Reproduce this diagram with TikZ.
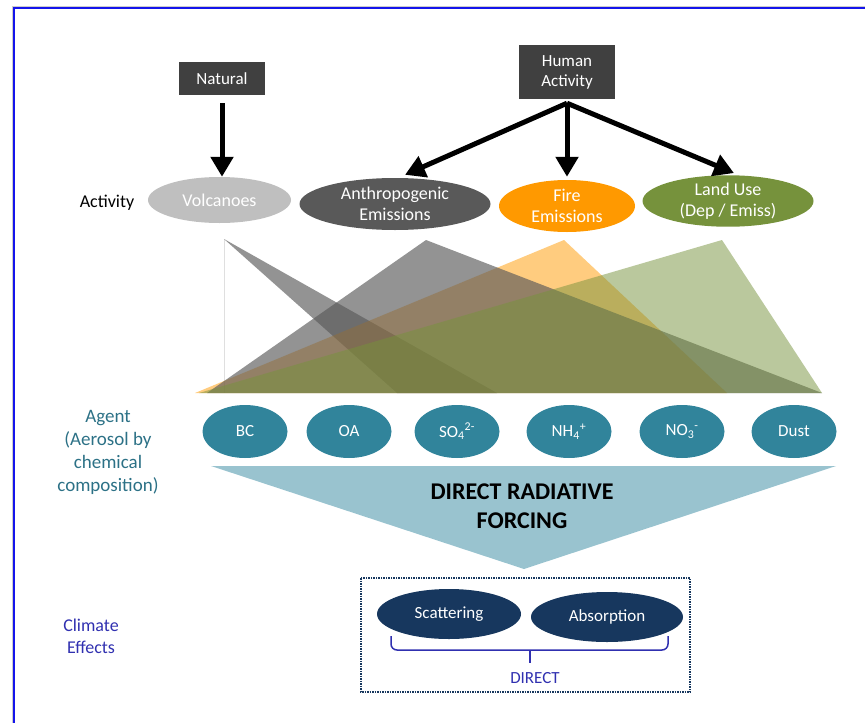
\documentclass[tikz,border=0pt]{standalone}
\usepackage{fontspec}
\setmainfont{Carlito}
\usetikzlibrary{shapes.geometric,arrows.meta}
\definecolor{boxgray}{HTML}{404040}
\definecolor{volcgray}{HTML}{BFBFBF}
\definecolor{anthgray}{HTML}{595959}
\definecolor{fireorange}{RGB}{255,153,0}
\definecolor{landgreen}{HTML}{76923C}
\definecolor{agentteal}{HTML}{31849B}
\definecolor{agenttext}{HTML}{2C7186}
\definecolor{forceblue}{RGB}{153,195,207}
\definecolor{effnavy}{HTML}{17375E}
\definecolor{effblue}{RGB}{48,48,176}
\definecolor{frameblue}{RGB}{20,20,235}
\begin{document}
\begin{tikzpicture}[x=1pt,y=-1pt,
  srcbox/.style={fill=boxgray,text=white,inner sep=0pt,align=center,font=\fontsize{17}{20}\selectfont},
  actnode/.style={ellipse,inner sep=0pt,text=white,align=center,font=\fontsize{18}{21}\selectfont},
  agentnode/.style={ellipse,fill=agentteal,minimum width=85pt,minimum height=53pt,inner sep=0pt,text=white,font=\fontsize{17}{20}\selectfont},
  effnode/.style={ellipse,fill=effnavy,minimum height=50pt,inner sep=0pt,text=white,font=\fontsize{17}{20}\selectfont},
  rowlabel/.style={align=center,font=\fontsize{18}{22}\selectfont},
  bigarrow/.style={line width=5pt,-{Triangle[length=20pt,width=22pt]}}]
\useasboundingbox (0,0) rectangle (865,723);
% frame
\draw[gray!40,line width=1pt] (12.8,723) -- (12.8,6.3) -- (865,6.3);
\draw[frameblue,line width=2pt] (14.3,723) -- (14.3,7.7) -- (865,7.7);
% sources
\node[srcbox,minimum width=86pt,minimum height=33pt] (nat) at (222,78.5) {Natural};
\node[srcbox,minimum width=96pt,minimum height=54pt] (hum) at (567,72) {Human\\Activity};
% activities
\node[rowlabel] (actlbl) at (107,203) {Activity};
\node[actnode,fill=volcgray,minimum width=143pt,minimum height=46pt] (volc) at (219.5,200) {Volcanoes};
\node[actnode,fill=anthgray,minimum width=191pt,minimum height=52pt] (anth) at (395,204) {Anthropogenic\\Emissions};
\node[actnode,fill=fireorange,minimum width=136pt,minimum height=52pt] (fire) at (567,206) {Fire\\Emissions};
\node[actnode,fill=landgreen,minimum width=171pt,minimum height=47pt] (land) at (728,201) {Land Use\\(Dep / Emiss)};
\coordinate (hub) at ([yshift=-4pt]hum.south);
\draw[bigarrow] ([yshift=-8pt]nat.south) -- (nat.south |- volc.north);
\draw[bigarrow] (hub) -- ([shift={(10,-3)}]anth.north);
\draw[bigarrow] (hub) -- ([yshift=3pt]fire.north);
\draw[bigarrow] (hub) -- ([shift={(6,-2)}]land.north);
% contributions
\draw[gray!25,line width=1pt] (224,239) -- (224,393);
\fill[anthgray,fill opacity=0.65] (224,239) -- (397,393) -- (497,393) -- cycle;
\fill[fireorange,fill opacity=0.5] (564,240) -- (195,393) -- (727,393) -- cycle;
\fill[anthgray,fill opacity=0.65] (426,240) -- (207,393) -- (822,393) -- cycle;
\fill[landgreen,fill opacity=0.5] (722,240) -- (199,393) -- (822,393) -- cycle;
% agents
\node[rowlabel,text=agenttext,font=\fontsize{19}{23}\selectfont] (agtlbl) at (108,452) {Agent\\(Aerosol by\\chemical\\composition)};
\node[agentnode] (bc) at (245,431.5) {BC};
\node[agentnode] (oa) at (349,431.5) {OA};
\node[agentnode] (so) at (457,431.5) {SO\textsubscript{4}\textsuperscript{2-}};
\node[agentnode] (nh) at (569,431.5) {NH\textsubscript{4}\textsuperscript{+}};
\node[agentnode] (no) at (682,431.5) {NO\textsubscript{3}\textsuperscript{-}};
\node[agentnode] (dust) at (794,431.5) {Dust};
% forcing
\fill[forceblue] (211,466) -- (836,466) -- (524,569) -- cycle;
\node[align=center,font=\bfseries\fontsize{24}{29}\selectfont] (drf) at (522,506) {DIRECT RADIATIVE\\FORCING};
% climate effects
\node[rowlabel,text=effblue] (efflbl) at (91,636) {Climate\\Effects};
\draw[effnavy,densely dotted,line width=1.5pt] (361,578) rectangle (690,692);
\node[effnode,minimum width=144pt] (scat) at (449,614) {Scattering};
\node[effnode,minimum width=152pt] (absn) at (607,617) {Absorption};
\coordinate (brl) at (391,636);
\coordinate (brr) at (668,636);
\coordinate (brmid) at (530,650);
\draw[effblue,line width=1.5pt,rounded corners=6pt] (brl) |- (brmid) -| (brr);
\draw[effblue,line width=1.5pt] (brmid) -- ++(0,13);
\node[text=effblue,font=\fontsize{17}{20}\selectfont] (dir) at (535,678) {DIRECT};
\end{tikzpicture}
\end{document}
